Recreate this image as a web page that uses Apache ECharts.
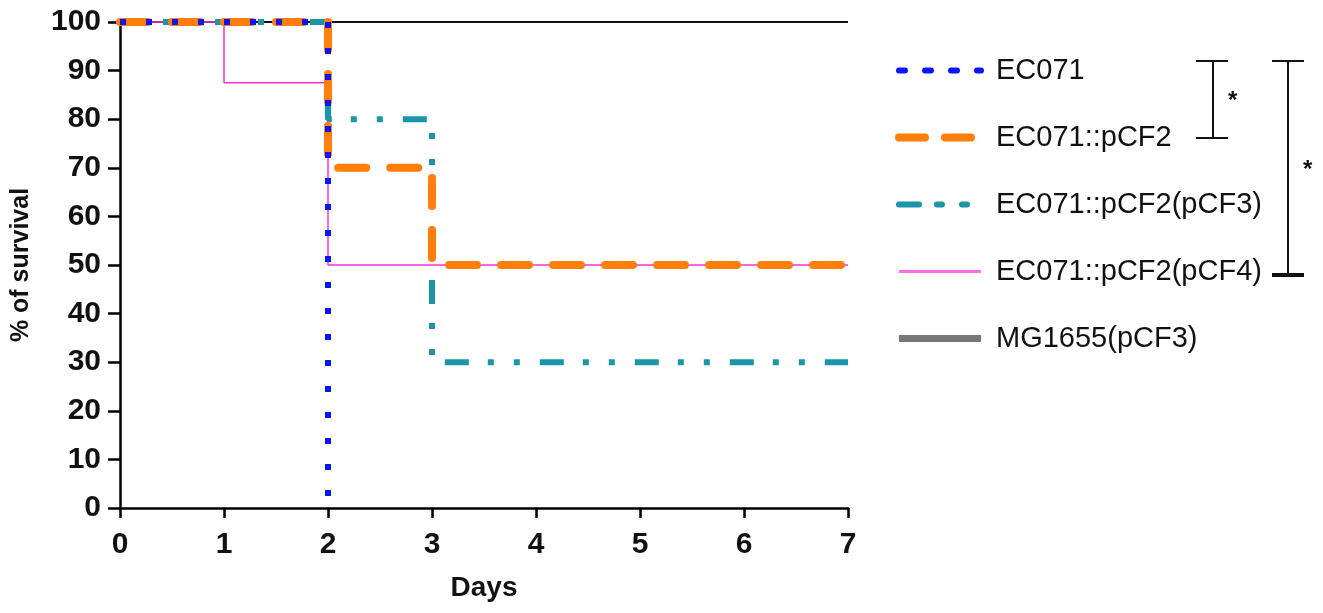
<!DOCTYPE html>
<html>
<head>
<meta charset="utf-8">
<script src="https://cdn.jsdelivr.net/npm/echarts@6/dist/echarts.min.js"></script>
<style>
  html, body { margin: 0; padding: 0; background: #fff; }
  #chart { width: 1323px; height: 613px; }
</style>
</head>
<body>
<div id="chart"></div>
<script>
// survival curves (step)
const ec071Days = [0, 2];
const ec071Surv = [100, 0];
const pcf2Days = [0, 2, 3, 7];
const pcf2Surv = [100, 70, 50, 50];
const pcf3Days = [0, 2, 3, 7];
const pcf3Surv = [100, 80, 30, 30];
const pcf4Days = [0, 1, 2, 7];
const pcf4Surv = [100, 87.5, 50, 50];
const mgDays = [0, 7];
const mgSurv = [100, 100];

const seriesNames = ['EC071', 'EC071::pCF2', 'EC071::pCF2(pCF3)', 'EC071::pCF2(pCF4)', 'MG1655(pCF3)'];
const xTicks = [0, 1, 2, 3, 4, 5, 6, 7];
const yTicks = [0, 10, 20, 30, 40, 50, 60, 70, 80, 90, 100];

function pts(d, s) { return d.map((v, i) => [v, s[i]]); }

const chart = echarts.init(document.getElementById('chart'));

const blueDash = [6, 20], orangeDash = [28, 24], tealDash = [24, 19, 6, 20, 6, 20];

function stepLine(name, data, color, width, dash, cap, z) {
  return {
    name: name,
    type: 'line',
    step: 'end',
    data: data,
    symbol: 'none',
    clip: false,
    z: z,
    animation: false,
    lineStyle: { color: color, width: width, type: dash, cap: cap },
    itemStyle: { color: color }
  };
}

const option = {
  animation: false,
  grid: { left: 120, right: 475, top: 22, bottom: 105, containLabel: false, outerBoundsMode: 'none' },
  legend: {
    orient: 'vertical',
    left: 890,
    top: 51,
    itemWidth: 82,
    itemHeight: 14,
    itemGap: 38,
    itemStyle: { opacity: 0 },
    textStyle: { fontFamily: 'Liberation Sans, Arial', fontSize: 29, color: '#111', padding: [0, 0, 0, 10] },
    data: [
      { name: seriesNames[0], lineStyle: { color: '#0a14ff', width: 6, type: [6, 20], cap: 'round' } },
      { name: seriesNames[1], lineStyle: { color: '#ff7f0a', width: 8, type: [26, 20], cap: 'round' } },
      { name: seriesNames[2], lineStyle: { color: '#1b95a8', width: 6, type: [20, 18, 5, 20, 5, 20], cap: 'round' } },
      { name: seriesNames[3], lineStyle: { color: '#ff6ee0', width: 3, type: 'solid' } },
      { name: seriesNames[4], lineStyle: { color: '#777', width: 7, type: 'solid' } }
    ]
  },
  xAxis: {
    type: 'value',
    min: 0, max: 7, interval: 1,
    name: 'Days',
    nameLocation: 'middle',
    nameGap: 66,
    nameTextStyle: { fontFamily: 'Liberation Sans, Arial', fontSize: 28, fontWeight: 'bold', color: '#111' },
    axisLine: { lineStyle: { color: '#000', width: 2.5 } },
    axisTick: { length: 10, lineStyle: { color: '#000', width: 2.5 } },
    axisLabel: { margin: 22, fontFamily: 'Liberation Sans, Arial', fontSize: 30, fontWeight: 'bold', color: '#111',
      formatter: v => xTicks.includes(v) ? String(v) : '' },
    splitLine: { show: false }
  },
  yAxis: {
    type: 'value',
    min: 0, max: 100, interval: 10,
    name: '% of survival',
    nameLocation: 'middle',
    nameGap: 86,
    nameRotate: 90,
    nameTextStyle: { fontFamily: 'Liberation Sans, Arial', fontSize: 25, fontWeight: 'bold', color: '#111' },
    axisLine: { show: true, lineStyle: { color: '#000', width: 2.5 } },
    axisTick: { show: true, length: 12, lineStyle: { color: '#000', width: 2.5 } },
    axisLabel: { margin: 19, fontFamily: 'Liberation Sans, Arial', fontSize: 30, fontWeight: 'bold', color: '#111',
      formatter: v => yTicks.includes(v) ? String(v) : '' },
    splitLine: { show: false }
  },
  series: [
    stepLine(seriesNames[0], pts(ec071Days, ec071Surv), '#0a14ff', 6, blueDash, 'butt', 6),
    stepLine(seriesNames[1], pts(pcf2Days, pcf2Surv), '#ff7f0a', 8, orangeDash, 'round', 5),
    stepLine(seriesNames[2], pts(pcf3Days, pcf3Surv), '#1b95a8', 6, tealDash, 'butt', 4),
    stepLine(seriesNames[3], pts(pcf4Days, pcf4Surv), '#ff30d2', 1.5, 'solid', 'butt', 3),
    stepLine(seriesNames[4], pts(mgDays, mgSurv), '#111', 2, 'solid', 'butt', 2)
  ],
  graphic: [
    // significance brackets
    { type: 'line', shape: { x1: 1213, y1: 61, x2: 1213, y2: 138 }, style: { stroke: '#111', lineWidth: 2 } },
    { type: 'line', shape: { x1: 1196, y1: 61, x2: 1228, y2: 61 }, style: { stroke: '#111', lineWidth: 2 } },
    { type: 'line', shape: { x1: 1196, y1: 138, x2: 1228, y2: 138 }, style: { stroke: '#111', lineWidth: 2 } },
    { type: 'text', x: 1228, y: 89, style: { text: '*', fill: '#111', font: 'bold 24px Liberation Sans' } },
    { type: 'line', shape: { x1: 1288, y1: 61, x2: 1288, y2: 275 }, style: { stroke: '#111', lineWidth: 2 } },
    { type: 'line', shape: { x1: 1272, y1: 61, x2: 1304, y2: 61 }, style: { stroke: '#111', lineWidth: 2 } },
    { type: 'line', shape: { x1: 1272, y1: 275, x2: 1304, y2: 275 }, style: { stroke: '#111', lineWidth: 4 } },
    { type: 'text', x: 1303, y: 158, style: { text: '*', fill: '#111', font: 'bold 24px Liberation Sans' } }
  ]
};

chart.setOption(option);
</script>
</body>
</html>
